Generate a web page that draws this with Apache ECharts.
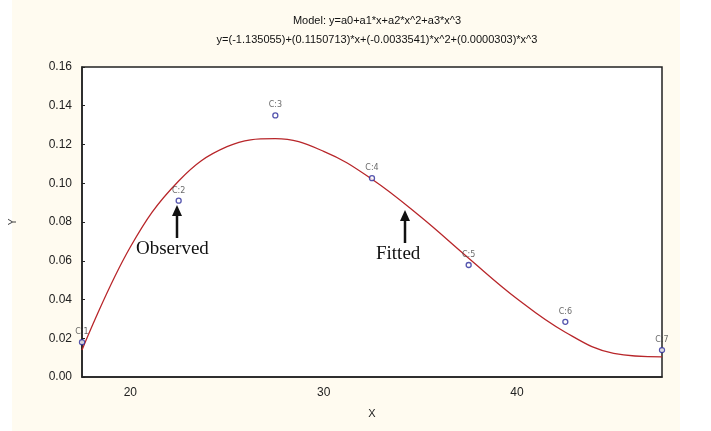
<!DOCTYPE html>
<html>
<head>
<meta charset="utf-8">
<script src="https://cdn.jsdelivr.net/npm/echarts@6/dist/echarts.min.js"></script>
<style>
  html, body { margin: 0; padding: 0; background: #ffffff; }
  #main { width: 711px; height: 431px; }
</style>
</head>
<body>
<div id="main"></div>
<script>
// observed cases
let obsX = [17.5, 22.5, 27.5, 32.5, 37.5, 42.5, 47.5];
let obsY = [0.018, 0.091, 0.135, 0.1026, 0.0578, 0.0285, 0.0139];
let obsLabels = ["C:1", "C:2", "C:3", "C:4", "C:5", "C:6", "C:7"];

// fitted curve
let fitX = [17.5, 20, 22.5, 25, 27.5, 30, 32.5, 35, 37.5, 40, 42.5, 45, 47.5];
let fitY = [0.0139, 0.0671, 0.1012, 0.1189, 0.1230, 0.1165, 0.1021, 0.0828, 0.0613, 0.0404, 0.0231, 0.0122, 0.0104];

let yTicks = ["0.00", "0.02", "0.04", "0.06", "0.08", "0.10", "0.12", "0.14", "0.16"];

let myChart = echarts.init(document.getElementById("main"));

let options = {
  backgroundColor: "#ffffff",
  animation: false,
  title: {
    text: "Model: y=a0+a1*x+a2*x^2+a3*x^3",
    subtext: "y=(-1.135055)+(0.1150713)*x+(-0.0033541)*x^2+(0.0000303)*x^3",
    left: 372,
    top: 10,
    textAlign: "center",
    itemGap: 8,
    textStyle: { fontFamily: "Liberation Sans", fontSize: 11, fontWeight: "normal", color: "#111" },
    subtextStyle: { fontFamily: "Liberation Sans", fontSize: 11, color: "#111" },
  },
  grid: { left: 80, right: 49, top: 67, bottom: 54, show: true, backgroundColor: "#ffffff", borderColor: "#222", borderWidth: 1.5 },
  xAxis: {
    type: "value",
    min: 17.5,
    max: 47.5,
    interval: 10,
    name: "X",
    nameLocation: "middle",
    nameGap: 31,
    nameTextStyle: { fontFamily: "Liberation Sans", fontSize: 11, color: "#222" },
    axisLine: { onZero: false, lineStyle: { color: "#222", width: 1.5 } },
    axisTick: { show: false },
    axisLabel: {
      fontFamily: "Liberation Sans", fontSize: 12, color: "#222", margin: 10,
      customValues: [20, 30, 40],
    },
    splitLine: { show: false },
  },
  yAxis: {
    type: "value",
    min: 0,
    max: 0.16,
    interval: 0.02,
    name: "Y",
    nameLocation: "middle",
    nameGap: 64,
    nameTextStyle: { fontFamily: "Liberation Sans", fontSize: 10, color: "#444" },
    axisLine: { lineStyle: { color: "#222", width: 1.5 } },
    axisTick: { inside: true, length: 3, lineStyle: { color: "#222" } },
    axisLabel: {
      fontFamily: "Liberation Sans", fontSize: 12, color: "#222", margin: 10,
      formatter: (v) => yTicks[Math.round(v / 0.02)],
    },
    splitLine: { show: false },
  },
  series: [
    {
      name: "Fitted",
      type: "line",
      smooth: 0.4,
      showSymbol: false,
      data: fitX.map((x, i) => [x, fitY[i]]),
      lineStyle: { color: "#b8262a", width: 1.3 },
      z: 2,
    },
    {
      name: "Observed",
      type: "scatter",
      symbol: "circle",
      symbolSize: 5,
      data: obsX.map((x, i) => [x, obsY[i]]),
      itemStyle: { color: "#ffffff", borderColor: "#2a2a9a", borderWidth: 1.3 },
      label: {
        show: true,
        position: "top",
        distance: 3,
        formatter: (p) => obsLabels[p.dataIndex],
        fontFamily: "DejaVu Sans",
        fontSize: 8,
        color: "#444",
      },
      z: 3,
    },
  ],
  graphic: [
    { type: "rect", left: 12, top: 0, shape: { width: 668, height: 431 }, style: { fill: "#fffbf0" }, z: -10, silent: true },
    { type: "text", left: 136, top: 240, style: { text: "Observed", fontFamily: "Liberation Serif", fontSize: 19, fill: "#111" } },
    { type: "line", shape: { x1: 177, y1: 238, x2: 177, y2: 214 }, style: { stroke: "#111", lineWidth: 2.5 } },
    { type: "polygon", shape: { points: [[172, 216], [182, 216], [177, 205]] }, style: { fill: "#111" } },
    { type: "text", left: 376, top: 245, style: { text: "Fitted", fontFamily: "Liberation Serif", fontSize: 19, fill: "#111" } },
    { type: "line", shape: { x1: 405, y1: 243, x2: 405, y2: 219 }, style: { stroke: "#111", lineWidth: 2.5 } },
    { type: "polygon", shape: { points: [[400, 221], [410, 221], [405, 210]] }, style: { fill: "#111" } },
  ],
};

myChart.setOption(options);
</script>
</body>
</html>
